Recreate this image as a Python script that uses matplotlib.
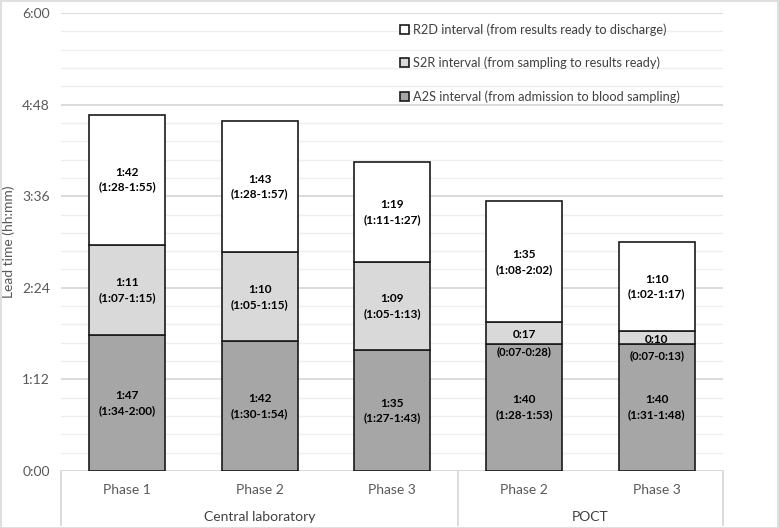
import numpy as np
import matplotlib
matplotlib.use('Agg')
import matplotlib.pyplot as plt
from matplotlib.patches import Rectangle
import matplotlib.transforms as mtransforms

plt.rcParams['font.family'] = ['Lato', 'DejaVu Sans']

# data (medians and IQR, h:mm)
phases = ['Phase 1', 'Phase 2', 'Phase 3', 'Phase 2', 'Phase 3']
groups = ['Central laboratory', 'POCT']
group_sizes = [3, 2]
a2s = ['1:47', '1:42', '1:35', '1:40', '1:40']
a2s_iqr = ['1:34-2:00', '1:30-1:54', '1:27-1:43', '1:28-1:53', '1:31-1:48']
s2r = ['1:11', '1:10', '1:09', '0:17', '0:10']
s2r_iqr = ['1:07-1:15', '1:05-1:15', '1:05-1:13', '0:07-0:28', '0:07-0:13']
r2d = ['1:42', '1:43', '1:19', '1:35', '1:10']
r2d_iqr = ['1:28-1:55', '1:28-1:57', '1:11-1:27', '1:08-2:02', '1:02-1:17']
yticks = [0, 72, 144, 216, 288, 360]
ytick_labels = ['0:00', '1:12', '2:24', '3:36', '4:48', '6:00']


def to_min(s):
    h, m = s.split(':')
    return int(h) * 60 + int(m)


A = np.array([to_min(v) for v in a2s])
S = np.array([to_min(v) for v in s2r])
R = np.array([to_min(v) for v in r2d])

W, H = 779, 528
fig = plt.figure(figsize=(W / 100, H / 100), dpi=100)
fig.patches.append(Rectangle((0.5 / W, 0.5 / H), 1 - 1.5 / W, 1 - 1.5 / H, transform=fig.transFigure,
                             fill=False, edgecolor='#d9d9d9', linewidth=1.2))

L, R_, T, B = 61, 723, 13, 471
ax = fig.add_axes([L / W, 1 - B / H, (R_ - L) / W, (B - T) / H])
x = np.arange(len(phases))
ax.set_xlim(-0.5, len(phases) - 0.5)
ax.set_ylim(0, 360)

# gridlines
for v in np.arange(0, 361, 14.4):
    major = abs(v / 72 - round(v / 72)) < 1e-6
    ax.axhline(v, color='#d9d9d9' if major else '#efefef', lw=1.3 if major else 1.0, zorder=0)

colors = ['#a6a6a6', '#d9d9d9', '#ffffff']
bw = 0.575
ax.bar(x, A, bw, color=colors[0], edgecolor='#1a1a1a', lw=1.2, zorder=2,
       label='A2S interval (from admission to blood sampling)')
ax.bar(x, S, bw, bottom=A, color=colors[1], edgecolor='#1a1a1a', lw=1.2, zorder=2,
       label='S2R interval (from sampling to results ready)')
ax.bar(x, R, bw, bottom=A + S, color=colors[2], edgecolor='#1a1a1a', lw=1.2, zorder=2,
       label='R2D interval (from results ready to discharge)')

# bar labels
def seg_label(xi, bottom, h, med, iqr):
    if h < 30:
        ax.text(xi, bottom + h / 2 - 1.5, med, ha='center', va='center', fontsize=8.5, fontweight='bold', zorder=3)
        ax.text(xi, bottom + h / 2 - 14.5, '(' + iqr + ')', ha='center', va='center', fontsize=8,
                fontweight='bold', zorder=3)
    else:
        ax.text(xi, bottom + h / 2, med + '\n(' + iqr + ')', ha='center', va='center', fontsize=8.5,
                fontweight='bold', linespacing=1.45, zorder=3)


for i in range(len(phases)):
    seg_label(x[i], 0, A[i], a2s[i], a2s_iqr[i])
    seg_label(x[i], A[i], S[i], s2r[i], s2r_iqr[i])
    seg_label(x[i], A[i] + S[i], R[i], r2d[i], r2d_iqr[i])

ax.set_yticks(yticks)
ax.set_yticklabels(ytick_labels, fontsize=10, color='#595959')
ax.tick_params(axis='y', length=0, pad=8)
ax.set_xticks([])
for s in ax.spines.values():
    s.set_visible(False)
ax.axhline(0, color='#d9d9d9', lw=1.3, zorder=1)
ax.set_ylabel('Lead time (hh:mm)', fontsize=10, color='#595959', labelpad=5)

# multi-level category axis
trans = mtransforms.blended_transform_factory(ax.transData, ax.transAxes)
dy = 1 / (B - T)
for i, p in enumerate(phases):
    ax.text(x[i], -19 * dy, p, transform=trans, ha='center', va='center', fontsize=10, color='#595959')
start = 0
edges = [-0.5]
for g, n in zip(groups, group_sizes):
    ax.text(start + (n - 1) / 2, -46 * dy, g, transform=trans, ha='center', va='center',
            fontsize=10, color='#404040')
    start += n
    edges.append(start - 0.5)
for e in edges:
    ax.plot([e, e], [0, -54 * dy], transform=trans, color='#d9d9d9', lw=1.3, clip_on=False)

handles, labels = ax.get_legend_handles_labels()
leg = ax.legend(handles[::-1], labels[::-1], loc='upper left', bbox_to_anchor=(400 / W, 1 - 23 / H),
                bbox_transform=fig.transFigure, frameon=False, fontsize=9.2, labelspacing=1.65,
                handlelength=0.7, handleheight=0.7, handletextpad=0.35, borderpad=0, borderaxespad=0)
for t in leg.get_texts():
    t.set_color('#404040')

fig.savefig('out.png', dpi=100)
